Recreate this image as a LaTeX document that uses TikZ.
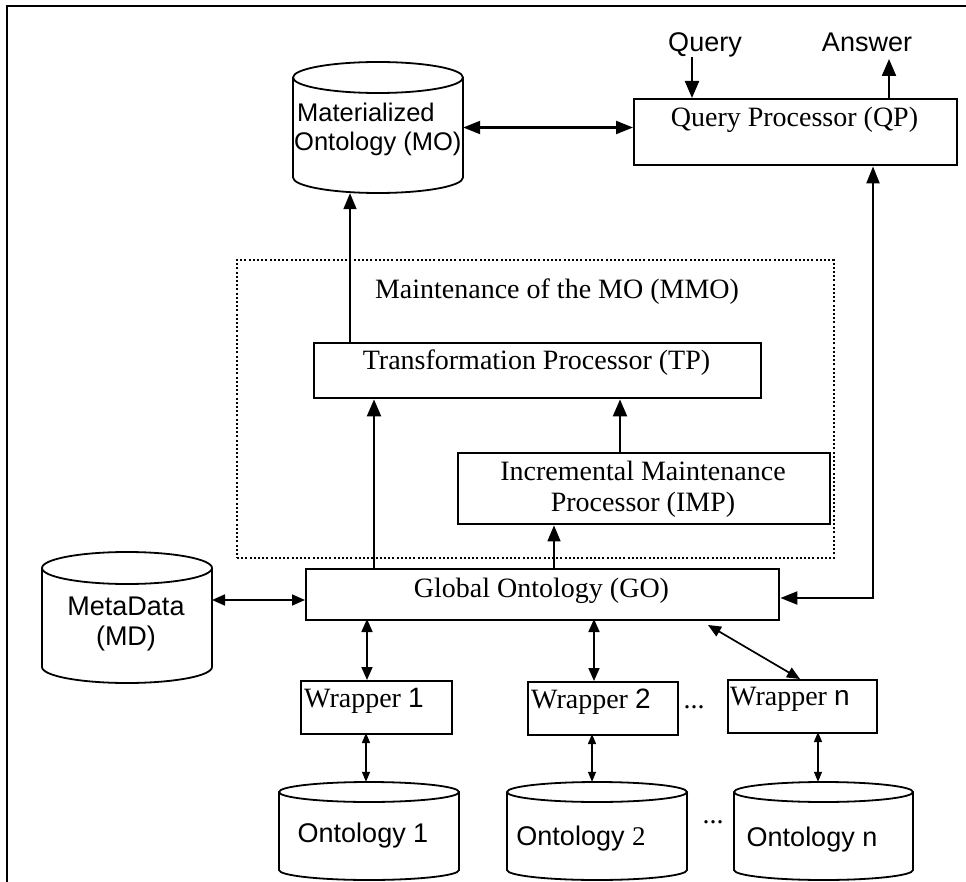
\documentclass[tikz,border=0pt]{standalone}
\usepackage{fontspec}
\setmainfont{Liberation Serif}
\setsansfont{Liberation Sans}
\usetikzlibrary{arrows.meta,fit}

% cylinder (database drum): #1 name, #2 left, #3 right, #4 top, #5 bottom, #6 half height of the ellipse
\newcommand{\drum}[6]{%
  \path (#2,#4) coordinate (#1-nw) (#3,#5) coordinate (#1-se);
  \node[inner sep=0pt, fit=(#1-nw)(#1-se)] (#1) {};
  \draw[drumline] (#2,{#4+#6}) -- (#2,{#5-#6})
    arc[start angle=180, end angle=0, x radius={(#3-#2)/2}, y radius=#6]
    -- (#3,{#4+#6});
  \draw[drumline] ({(#2+#3)/2},{#4+#6}) ellipse[x radius={(#3-#2)/2}, y radius=#6];
}

\tikzset{
  boxline/.style={draw, line width=2.4pt, inner sep=0pt, anchor=north west},
  drumline/.style={line width=1.8pt},
  serif/.style={font=\rmfamily\fontsize{28}{31}\selectfont, inner sep=0pt},
  sans/.style={font=\sffamily\fontsize{27}{31}\selectfont, inner sep=0pt},
  sanssmall/.style={font=\sffamily\fontsize{25.5}{29}\selectfont, inner sep=0pt},
  bighead/.style={Triangle[length=17pt,width=14pt]},
  bigarrow/.style={line width=2.2pt, -{Triangle[length=17pt,width=14pt]}},
  medarrow/.style={line width=1.7pt, -{Triangle[length=16pt,width=13pt]}},
  bigboth/.style={line width=2.2pt, {Triangle[length=17pt,width=13pt]}-{Triangle[length=17pt,width=13pt]}},
  midboth/.style={line width=1.7pt, {Triangle[length=13pt,width=11pt]}-{Triangle[length=13pt,width=11pt]}},
  thinboth/.style={line width=1.3pt, {Triangle[length=10pt,width=8pt]}-{Triangle[length=10pt,width=8pt]}},
}

\begin{document}
\begin{tikzpicture}[x=1pt, y=-1pt]
\useasboundingbox (0,0) rectangle (966,882);

% outer frame (top and left edges)
\draw[line width=1.5pt] (7,882) -- (7,6) -- (966,6);

% ---------- top row ----------
\drum{mo}{293}{463}{62}{193}{15.5}
\node[sanssmall, anchor=base west] (mot1) at (297,122) {Materialized};
\node[sanssmall, anchor=base west] (mot2) at (294,151) {Ontology (MO)};

\node[boxline, minimum width=323pt, minimum height=66pt] (qp) at (633,98) {};
\node[serif, anchor=base] (qpt) at (794.5,127) {Query Processor (QP)};

\node[sans, anchor=base] (qlab) at (705,52) {Query};
\node[sans, anchor=base] (alab) at (867,52) {Answer};
\coordinate (qin) at (692,98);
\coordinate (qstart) at (692,57);
\coordinate (aout) at (889,98);
\coordinate (atip) at (889,59);
\draw[bigarrow] (qstart) -- (qin);
\draw[bigarrow] (aout) -- (atip);

\draw[bigboth] (mo.east) -- (mo.east -| qp.west);

% ---------- maintenance block ----------
\node[draw, line width=2pt, dash pattern=on 2pt off 2.2pt, inner sep=0pt,
      anchor=north west, minimum width=597pt, minimum height=298pt] (mmo) at (236,259) {};
\node[serif, anchor=base] (mmot) at (557,299) {Maintenance of the MO (MMO)};

\node[boxline, minimum width=447pt, minimum height=55pt] (tp) at (313,342) {};
\node[serif, anchor=base] (tpt) at (536.5,370) {Transformation Processor (TP)};

\node[boxline, minimum width=372pt, minimum height=71pt] (imp) at (457,452) {};
\node[serif, anchor=base] (impt1) at (643,480) {Incremental Maintenance};
\node[serif, anchor=base] (impt2) at (643,511) {Processor (IMP)};

% ---------- global ontology ----------
\node[boxline, minimum width=473pt, minimum height=51pt] (go) at (305,568) {};
\node[serif, anchor=base] (got) at (541.5,597) {Global Ontology (GO)};

\coordinate (tpmo) at (350,342);
\draw[medarrow] (tpmo) -- (tpmo |- mo.south);

\coordinate (gotp) at (374,568);
\draw[bigarrow] (gotp) -- (gotp |- tp.south);
\coordinate (imptp) at (620,452);
\draw[bigarrow] (imptp) -- (imptp |- tp.south);
\coordinate (goimp) at (554,568);
\draw[medarrow] (goimp) -- (goimp |- imp.south);

\coordinate (bend) at (873,598);
\draw[bigboth] (go.east |- bend) -- (bend) -- (bend |- qp.south);

% ---------- metadata ----------
\drum{md}{42}{212}{552}{683}{16}
\node[sans, anchor=base] (mdt1) at (126,615) {MetaData};
\node[sans, anchor=base] (mdt2) at (126,645) {(MD)};
\coordinate (mdgo) at (212,600);
\draw[midboth] (mdgo) -- (mdgo -| go.west);

% ---------- wrappers ----------
\node[boxline, minimum width=151pt, minimum height=53pt] (w1) at (300,680) {};
\node[boxline, minimum width=150pt, minimum height=53pt] (w2) at (527,681) {};
\node[boxline, minimum width=149pt, minimum height=53pt] (wn) at (727,679) {};
\node[serif, anchor=base west] (w1t) at (304,707) {Wrapper {\sffamily 1}};
\node[serif, anchor=base west] (w2t) at (531,708) {Wrapper {\sffamily 2}};
\node[serif, anchor=base west] (wnt) at (730,705) {Wrapper {\sffamily n}};
\node[serif, anchor=base] (wdots) at (694,708) {...};

\coordinate (gw1) at (367,619);
\draw[midboth] (gw1) -- (gw1 |- w1.north);
\coordinate (gw2) at (594,619);
\draw[midboth] (gw2) -- (gw2 |- w2.north);
\coordinate (gwn) at (708,625);
\coordinate (wntop) at (800,679);
\draw[midboth] (gwn) -- (wntop);

% ---------- source ontologies ----------
\drum{o1}{279}{459}{782}{880}{10}
\drum{o2}{507}{687}{782}{880}{10}
\drum{on}{734}{913}{782}{880}{10}
\node[sans, anchor=base] (o1t) at (363,842) {Ontology 1};
\node[sans, anchor=base] (o2t) at (581,845) {Ontology {\rmfamily 2}};
\node[sans, anchor=base] (ont) at (812,846) {Ontology n};
\node[serif] (odots) at (713,822) {...};

\coordinate (wo1) at (366,733);
\draw[thinboth] (wo1) -- (wo1 |- o1.north);
\coordinate (wo2) at (592,734);
\draw[thinboth] (wo2) -- (wo2 |- o2.north);
\coordinate (won) at (818,732);
\draw[thinboth] (won) -- (won |- on.north);
\end{tikzpicture}
\end{document}
